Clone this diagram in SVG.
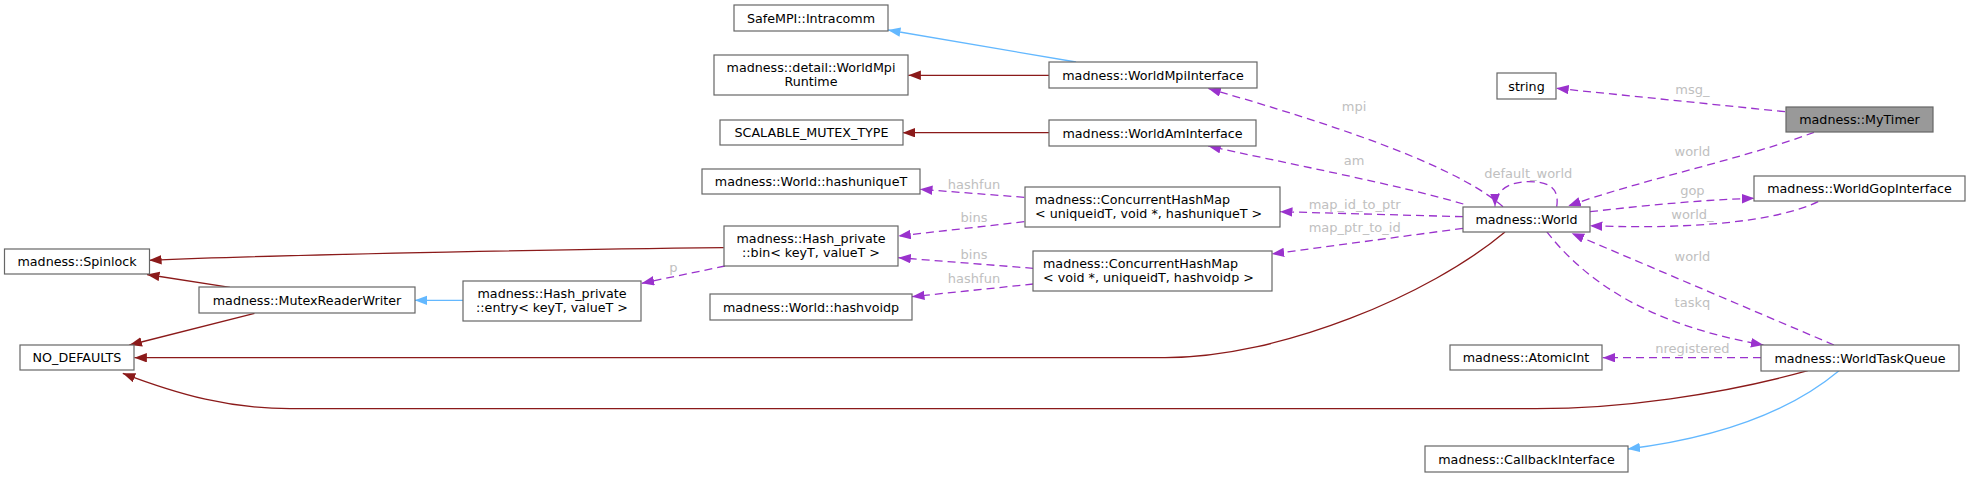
<svg xmlns="http://www.w3.org/2000/svg" width="1971" height="477" viewBox="0 0 1971 477">
<style>
.nb{fill:#ffffff;stroke:#666666;stroke-width:1.2}
.nh{fill:#999999;stroke:#666666;stroke-width:1.2}
.t{font-family:"DejaVu Sans","Liberation Sans",sans-serif;font-size:12.7px;fill:#000000}
.c{text-anchor:middle}
.el{font-family:"DejaVu Sans","Liberation Sans",sans-serif;font-size:13px;fill:#c0c0c0;text-anchor:middle}
.red{fill:none;stroke:#8b1a1a;stroke-width:1.3}
.blue{fill:none;stroke:#63b8ff;stroke-width:1.3}
.pur{fill:none;stroke:#9a32cd;stroke-width:1.3;stroke-dasharray:8,5}
</style>
<defs>
<marker id="aRed" markerUnits="userSpaceOnUse" markerWidth="14" markerHeight="10" refX="12.5" refY="4.75" orient="auto"><path d="M0,0 L12.5,4.75 L0,9.5 z" fill="#8b1a1a"/></marker>
<marker id="aBlue" markerUnits="userSpaceOnUse" markerWidth="14" markerHeight="10" refX="12.5" refY="4.75" orient="auto"><path d="M0,0 L12.5,4.75 L0,9.5 z" fill="#63b8ff"/></marker>
<marker id="aPur" markerUnits="userSpaceOnUse" markerWidth="14" markerHeight="10" refX="12.5" refY="4.75" orient="auto"><path d="M0,0 L12.5,4.75 L0,9.5 z" fill="#9a32cd"/></marker>
</defs>
<rect width="1971" height="477" fill="#ffffff"/>

<g id="connectors">
<path class="blue" marker-end="url(#aBlue)" d="M1076,62 L888,30"/>
<path class="red" marker-end="url(#aRed)" d="M1049,75.3 L908.4,75.3"/>
<path class="red" marker-end="url(#aRed)" d="M1049,132.7 L902.6,132.7"/>
<path class="pur" marker-end="url(#aPur)" d="M1024.3,197.3 L920,189.3"/>
<text class="el" x="974" y="189.3">hashfun</text>
<path class="pur" marker-end="url(#aPur)" d="M1024.3,221.7 L898.3,236"/>
<text class="el" x="974" y="222">bins</text>
<path class="pur" marker-end="url(#aPur)" d="M1033.3,268.3 L898.3,257.7"/>
<text class="el" x="974" y="259">bins</text>
<path class="pur" marker-end="url(#aPur)" d="M1033.3,284 L912,296.7"/>
<text class="el" x="974" y="283">hashfun</text>
<path class="pur" marker-end="url(#aPur)" d="M725,266 L641.7,283.3"/>
<text class="el" x="673.3" y="272">p</text>
<path class="red" marker-end="url(#aRed)" d="M723.7,247.7 C600,249 300,254 149.1,260.3"/>
<path class="red" marker-end="url(#aRed)" d="M230,287.3 L147,274.5"/>
<path class="red" marker-end="url(#aRed)" d="M254.5,313.3 L129.5,345"/>
<path class="blue" marker-end="url(#aBlue)" d="M463.4,300.3 L414.7,300.3"/>
<path class="red" marker-end="url(#aRed)" d="M1505,232 C1430,295 1280,357.7 1165,357.7 L134.4,357.7"/>
<path class="red" marker-end="url(#aRed)" d="M1807.8,370.7 C1720,395 1620,408.7 1536,408.7 L290,408.7 C230,408.7 180,395 122.8,373.3"/>
<path class="pur" marker-end="url(#aPur)" d="M1785,111.7 L1556.2,88.3"/>
<text class="el" x="1692.4" y="94">msg_</text>
<path class="pur" marker-end="url(#aPur)" d="M1814,132.3 C1740,160 1640,180 1568.3,206"/>
<text class="el" x="1692.4" y="155.5">world</text>
<path class="pur" marker-end="url(#aPur)" d="M1589.9,211.7 C1650,205 1700,200 1754.3,198.3"/>
<text class="el" x="1692.4" y="195.3">gop</text>
<path class="pur" marker-end="url(#aPur)" d="M1818.2,201.7 C1780,220 1700,230 1589.9,225.7"/>
<text class="el" x="1692.4" y="219">world_</text>
<path class="pur" marker-end="url(#aPur)" d="M1556.7,206.7 C1560,185 1545,181.7 1528,181.7 C1510,181.7 1495,190 1495,206.5"/>
<text class="el" x="1528.3" y="178">default_world</text>
<path class="pur" marker-end="url(#aPur)" d="M1503,206.7 C1450,160 1300,115 1208.3,88.5"/>
<text class="el" x="1354" y="111">mpi</text>
<path class="pur" marker-end="url(#aPur)" d="M1463.3,204 C1400,185 1280,162 1208.3,146"/>
<text class="el" x="1354" y="165">am</text>
<path class="pur" marker-end="url(#aPur)" d="M1463,216.7 L1280,211.7"/>
<text class="el" x="1354.7" y="209">map_id_to_ptr</text>
<path class="pur" marker-end="url(#aPur)" d="M1463,228.3 L1271.7,254"/>
<text class="el" x="1354.7" y="232.3">map_ptr_to_id</text>
<path class="pur" marker-end="url(#aPur)" d="M1834,345 L1571.7,233.3"/>
<text class="el" x="1692.4" y="260.6">world</text>
<path class="pur" marker-end="url(#aPur)" d="M1546.7,231.7 C1600,300 1680,330 1763.4,345"/>
<text class="el" x="1692.4" y="306.5">taskq</text>
<path class="pur" marker-end="url(#aPur)" d="M1761,357.7 L1602.7,357.7"/>
<text class="el" x="1692.4" y="353">nregistered</text>
<path class="blue" marker-end="url(#aBlue)" d="M1839,370.7 C1780,420 1700,440 1627.6,449"/>
</g>

<g id="n_intracomm"><rect class="nb" x="734" y="5" width="154" height="26"/><text class="t c" x="811" y="22.5">SafeMPI::Intracomm</text></g>
<g id="n_runtime"><rect class="nb" x="714" y="55" width="194" height="40"/><text class="t c" x="811" y="71.5">madness::detail::WorldMpi</text><text class="t c" x="811" y="86">Runtime</text></g>
<g id="n_mpiif"><rect class="nb" x="1049" y="62" width="208" height="26"/><text class="t c" x="1153" y="79.5">madness::WorldMpiInterface</text></g>
<g id="n_scalable"><rect class="nb" x="720" y="120" width="183" height="25"/><text class="t c" x="811.5" y="137">SCALABLE_MUTEX_TYPE</text></g>
<g id="n_amif"><rect class="nb" x="1049" y="120" width="207" height="26"/><text class="t c" x="1152.5" y="137.5">madness::WorldAmInterface</text></g>
<g id="n_hashuniq"><rect class="nb" x="702" y="169" width="218" height="25"/><text class="t c" x="811" y="186">madness::World::hashuniqueT</text></g>
<g id="n_chm_uid"><rect class="nb" x="1025" y="187" width="255" height="40"/><text class="t" x="1035" y="203.5">madness::ConcurrentHashMap</text><text class="t" x="1035" y="218">&lt; uniqueidT, void *, hashuniqueT &gt;</text></g>
<g id="n_bin"><rect class="nb" x="724" y="226" width="174" height="40"/><text class="t c" x="811" y="242.5">madness::Hash_private</text><text class="t c" x="811" y="257">::bin&lt; keyT, valueT &gt;</text></g>
<g id="n_chm_void"><rect class="nb" x="1033" y="251" width="239" height="40"/><text class="t" x="1043" y="267.5">madness::ConcurrentHashMap</text><text class="t" x="1043" y="282">&lt; void *, uniqueidT, hashvoidp &gt;</text></g>
<g id="n_hashvoidp"><rect class="nb" x="710" y="294" width="202" height="26"/><text class="t c" x="811" y="311.5">madness::World::hashvoidp</text></g>
<g id="n_spinlock"><rect class="nb" x="4.5" y="249" width="145" height="25"/><text class="t c" x="77" y="266">madness::Spinlock</text></g>
<g id="n_mrw"><rect class="nb" x="199" y="287" width="216" height="26"/><text class="t c" x="307" y="304.5">madness::MutexReaderWriter</text></g>
<g id="n_entry"><rect class="nb" x="463" y="281" width="178" height="40"/><text class="t c" x="552" y="297.5">madness::Hash_private</text><text class="t c" x="552" y="312">::entry&lt; keyT, valueT &gt;</text></g>
<g id="n_nodef"><rect class="nb" x="20" y="345" width="114" height="25"/><text class="t c" x="77" y="362">NO_DEFAULTS</text></g>
<g id="n_string"><rect class="nb" x="1497" y="73" width="59" height="26"/><text class="t c" x="1526.5" y="90.5">string</text></g>
<g id="n_mytimer"><rect class="nh" x="1786" y="107" width="147" height="25"/><text class="t c" x="1859.5" y="124">madness::MyTimer</text></g>
<g id="n_gop"><rect class="nb" x="1754" y="176" width="211" height="25"/><text class="t c" x="1859.5" y="193">madness::WorldGopInterface</text></g>
<g id="n_world"><rect class="nb" x="1463" y="207" width="127" height="25"/><text class="t c" x="1526.5" y="224">madness::World</text></g>
<g id="n_atomic"><rect class="nb" x="1450" y="345" width="152" height="25"/><text class="t c" x="1526" y="362">madness::AtomicInt</text></g>
<g id="n_wtq"><rect class="nb" x="1761" y="345" width="198" height="26"/><text class="t c" x="1860" y="362.5">madness::WorldTaskQueue</text></g>
<g id="n_callback"><rect class="nb" x="1425" y="446" width="203" height="26"/><text class="t c" x="1526.5" y="463.5">madness::CallbackInterface</text></g>
</svg>
